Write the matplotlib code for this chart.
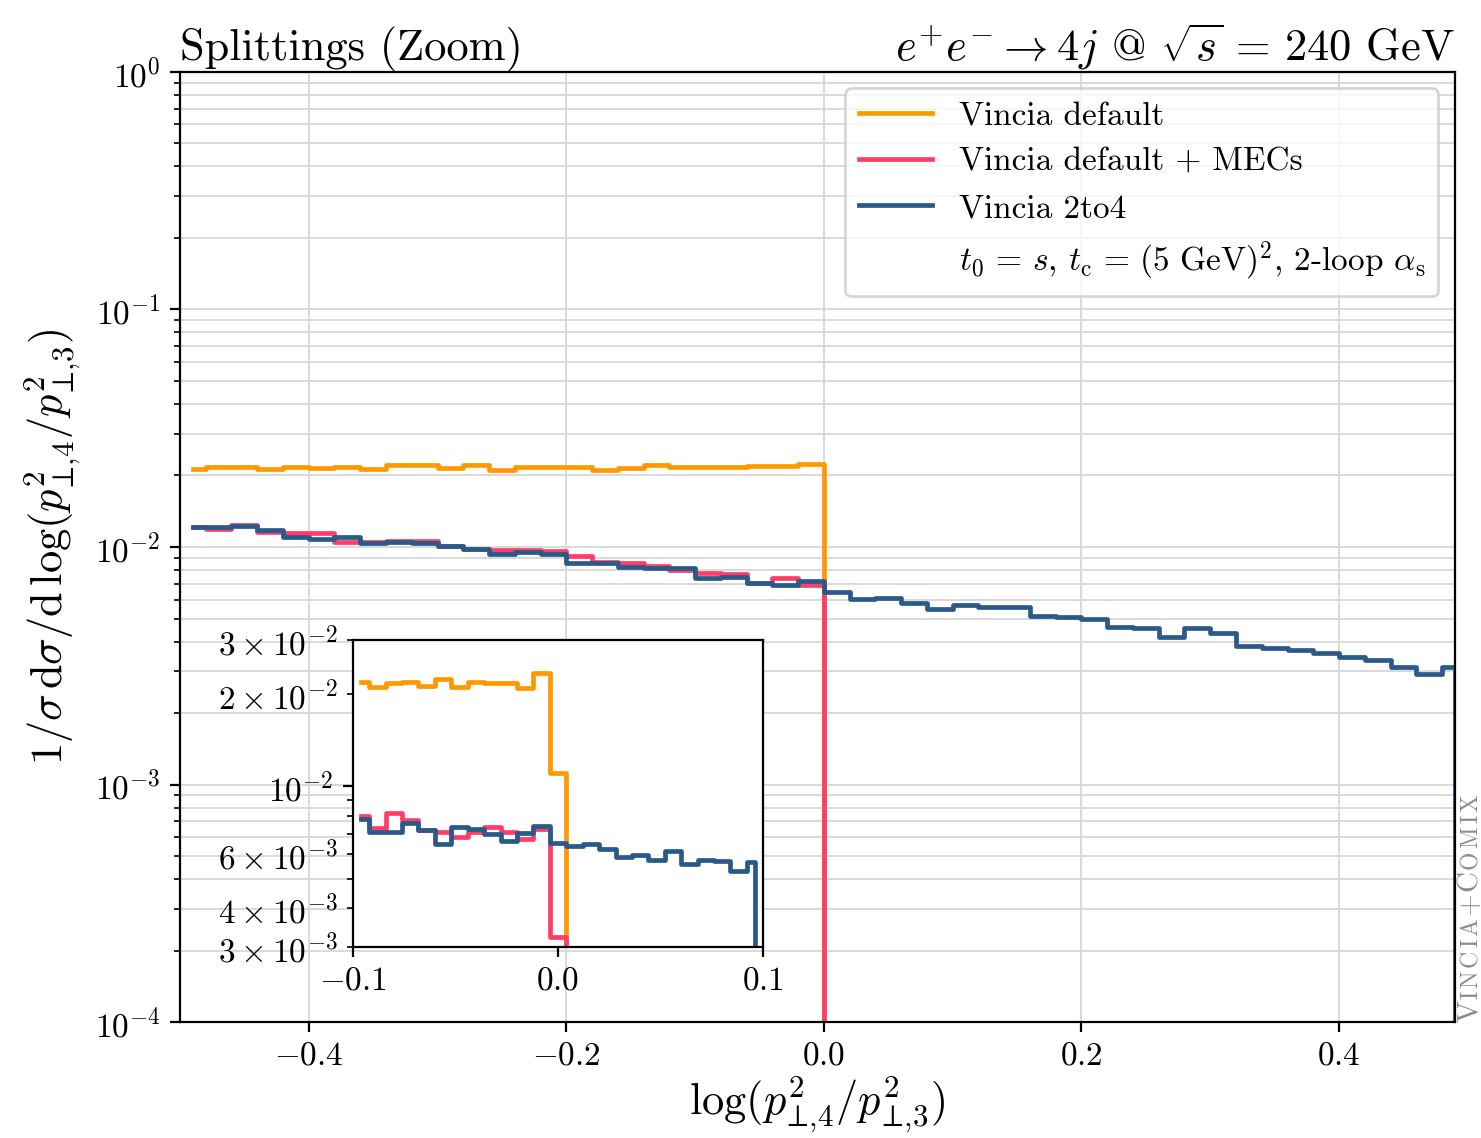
import numpy as np
import matplotlib
matplotlib.use("Agg")
import matplotlib.pyplot as plt
from matplotlib.transforms import offset_copy

plt.rcParams['font.family'] = ['cmr10', 'DejaVu Serif']
plt.rcParams['mathtext.fontset'] = 'cm'
plt.rcParams['axes.formatter.use_mathtext'] = True

# --- data: main histogram (bin centres, width 0.02) ---
x_main = np.linspace(-0.49, 0.49, 50)

vincia_default = [
    0.0212, 0.0218, 0.0218, 0.0212, 0.0218, 0.0214, 0.0217, 0.0212, 0.0221, 0.0221,
    0.0214, 0.0222, 0.0211, 0.0218, 0.0218, 0.0217, 0.0210, 0.0215, 0.0222, 0.0218,
    0.0217, 0.0217, 0.0219, 0.0219, 0.0223,
] + [0.0] * 25

vincia_mecs = [
    0.01210, 0.01187, 0.01238, 0.01160, 0.01149, 0.01141, 0.01053, 0.01053, 0.01057, 0.01060,
    0.01010, 0.00981, 0.00971, 0.00971, 0.00962, 0.00917, 0.00868, 0.00859, 0.00834, 0.00800,
    0.00779, 0.00767, 0.00703, 0.00738, 0.00692,
] + [0.0] * 25

vincia_2to4 = [
    0.01210, 0.01210, 0.01226, 0.01179, 0.01105, 0.01077, 0.01105, 0.01043, 0.01053, 0.01036,
    0.01010, 0.00981, 0.00931, 0.00956, 0.00931, 0.00854, 0.00854, 0.00826, 0.00818, 0.00813,
    0.00738, 0.00750, 0.00703, 0.00692, 0.00722,
    0.00646, 0.00602, 0.00608, 0.00583, 0.00546, 0.00570, 0.00561, 0.00557, 0.00512, 0.00506,
    0.00497, 0.00462, 0.00457, 0.00417, 0.00454, 0.00433, 0.00383, 0.00377, 0.00368, 0.00357,
    0.00343, 0.00334, 0.00313, 0.00292, 0.00313,
]

# --- data: inset histogram (bin centres, width 0.008) ---
x_zoom = np.linspace(-0.096, 0.096, 25)

zoom_default = [
    0.02194, 0.02103, 0.02167, 0.02194, 0.02124, 0.02234, 0.02112, 0.02183, 0.02177, 0.02177,
    0.02087, 0.02348, 0.01103,
] + [0.0] * 12

zoom_mecs = [
    0.00800, 0.00733, 0.00817, 0.00777, 0.00720, 0.00711, 0.00685, 0.00711, 0.00739, 0.00711,
    0.00672, 0.00724, 0.00323,
] + [0.0] * 12

zoom_2to4 = [
    0.00780, 0.00711, 0.00708, 0.00761, 0.00720, 0.00647, 0.00735, 0.00726, 0.00699, 0.00663,
    0.00706, 0.00743, 0.00652, 0.00639, 0.00649, 0.00626, 0.00587, 0.00596, 0.00575, 0.00617,
    0.00558, 0.00575, 0.00572, 0.00531, 0.00565,
]

labels = ["Vincia default", "Vincia default + MECs", "Vincia 2to4"]
colors = ["#ff9900", "#ff3d68", "#2a5a8a"]
setup_label = (r"$t_0 \,=\, s$, $t_\mathrm{c} \,=\, (5\ \mathrm{GeV})^2$, "
               r"2-loop $\alpha_\mathrm{s}$")
ratio = r"p^2_{\!\perp\!{,}4}/p^2_{\!\perp\!{,}3}"


def closed(x, y):
    # drop the line to zero after the last bin centre
    return np.append(x, x[-1]), np.append(y, 0.0)


fig = plt.figure(figsize=(7.405, 5.69), dpi=200)
ax = fig.add_axes([0.1215, 0.1017, 0.8609, 0.8353])

for y, lab, c in zip([vincia_default, vincia_mecs, vincia_2to4], labels, colors):
    xx, yy = closed(x_main, y)
    ax.step(xx, yy, where='mid', color=c, lw=1.7, label=lab)
ax.plot([], [], ' ', label=setup_label)

ax.set_yscale('log')
ax.set_xlim(-0.5, 0.49)
ax.set_ylim(1e-4, 1)
ax.set_xticks([-0.4, -0.2, 0.0, 0.2, 0.4])
ax.grid(True, which='both', axis='y', color='#d9d9d9', lw=0.7)
ax.grid(True, which='major', axis='x', color='#d9d9d9', lw=0.7)
ax.set_axisbelow(True)
ax.tick_params(labelsize=12)
ax.set_xlabel(r"$\log(" + ratio + r")$", fontsize=16, labelpad=1.5)
ax.set_ylabel(r"$1/\sigma\,\mathrm{d}\sigma/\mathrm{d}\,\log(" + ratio + r")$", fontsize=16)
ax.set_title("Splittings (Zoom)", loc='left', fontsize=16, pad=3)
ax.set_title(r"$e^{+}e^{-} \to 4j$ @ $\sqrt{s} \,=\, 240$ GeV", loc='right', fontsize=16, pad=3)
ax.legend(loc='upper right', fontsize=12, handlelength=2.2)

# inset
axin = fig.add_axes([0.2382, 0.1681, 0.2772, 0.2695])
for y, c in zip([zoom_default, zoom_mecs, zoom_2to4], colors):
    xx, yy = closed(x_zoom, y)
    axin.step(xx, yy, where='mid', color=c, lw=1.7)
axin.set_yscale('log')
axin.set_xlim(-0.1, 0.1)
axin.set_ylim(3e-3, 3e-2)
axin.set_xticks([-0.1, 0.0, 0.1])
axin.tick_params(which='both', labelsize=12)

# small-caps watermark on the right, one glyph at a time
pieces = [("V", 10.5, 1), ("I", 8.5, 3), ("N", 8.5, 3), ("C", 8.5, 3), ("I", 8.5, 3),
          ("A", 8.5, 3), ("+", 10.5, 1), ("C", 10.5, 1), ("O", 8.5, 3), ("M", 8.5, 3),
          ("I", 8.5, 3), ("X", 8.5, 3)]
renderer = fig.canvas.get_renderer()
trans = ax.transAxes
for s, size, gap in pieces:
    t = ax.text(1.0175, 0.0, s, rotation=90, rotation_mode='anchor', ha='left',
                va='baseline', fontsize=size, color='0.55', transform=trans)
    ex = t.get_window_extent(renderer)
    trans = offset_copy(t.get_transform(), fig=fig, x=0, y=ex.height + gap, units='dots')

fig.savefig("out.png", dpi=200)
